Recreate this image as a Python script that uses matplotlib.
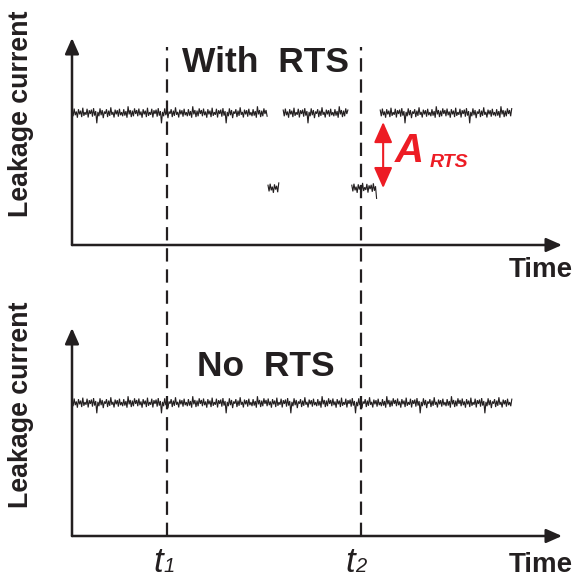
#!/usr/bin/env python3
import matplotlib
matplotlib.use('Agg')
import matplotlib.pyplot as plt
import numpy as np

plt.rcParams['font.family'] = ['Liberation Sans', 'DejaVu Sans']

# time axis: 0..100 (arbitrary units), current axis: 0..100 (arbitrary units)
T1 = 19.4
T2 = 59.0

# with RTS: (start, end, level)
RTS_SEGMENTS = [
    (0.0, 40.0, 63.8),
    (40.0, 42.2, 27.5),
    (43.1, 56.5, 63.8),
    (57.1, 62.2, 27.5),
    (62.9, 89.8, 63.8),
]
# no RTS
FLAT_SEGMENTS = [
    (0.0, 89.8, 64.0),
]
RTS_ARROW_X = 63.5
RTS_HIGH = 59.4
RTS_LOW = 27.5

# hand-drawn noise pattern (current units), repeated along the traces
NOISE = [1.4, -1.6, 2.1, -1.1, 0.7, -2.3, 1.8, -0.7, 1.1, -2.0, 2.5, -1.4,
         0.4, -0.9, 2.0, -2.2, 1.3, -0.5, 1.6, -1.8, 2.3, -1.3, 0.9, -5.0,
         0.5, -1.6, 2.2, -1.1, 1.4, -2.5, 0.7, -0.4, 1.8, -2.0, 1.1, -1.4,
         2.7, -0.9, 0.5, -2.2, 1.6, -0.7, 1.3, -1.8, 2.0, -1.1, 0.4, -1.6,
         1.8, -1.3, 0.9, -2.3, 3.2, -0.7, 1.4, -2.0, 1.1, -1.6, 2.2, -0.5]

W, H = 572, 579
fig = plt.figure(figsize=(W / 100, H / 100), dpi=100)


def box(x0, y_top, x1, y_bot):
    return [x0 / W, 1 - y_bot / H, (x1 - x0) / W, (y_bot - y_top) / H]


def draw_axes(ax):
    ax.set_xlim(0, 100)
    ax.set_ylim(0, 100)
    ax.axis('off')
    style = '-|>,head_length=0.95,head_width=0.42'
    for end in [(1.0, 0.0), (0.0, 1.0)]:
        ax.annotate('', xy=end, xytext=(0, 0), xycoords='axes fraction',
                    arrowprops=dict(arrowstyle=style, mutation_scale=10,
                                    lw=1.8, color='#231f20',
                                    shrinkA=0, shrinkB=0))


def draw_trace(ax, segments):
    for start, end, level in segments:
        x = np.arange(start, end, 0.22)
        y = level + np.resize(NOISE, len(x))
        ax.plot(x, y, color='#231f20', lw=0.8, solid_joinstyle='miter')


ax_top = fig.add_axes(box(72, 38, 562, 245))
draw_axes(ax_top)
draw_trace(ax_top, RTS_SEGMENTS)
ax_top.annotate('', xy=(RTS_ARROW_X, RTS_LOW), xytext=(RTS_ARROW_X, RTS_HIGH),
                arrowprops=dict(arrowstyle='<|-|>,head_length=0.9,head_width=0.4',
                                mutation_scale=14, lw=1.5, color='#ed1c24',
                                shrinkA=0, shrinkB=0))

ax_bot = fig.add_axes(box(72, 328, 562, 536))
draw_axes(ax_bot)
draw_trace(ax_bot, FLAT_SEGMENTS)

# dashed time markers spanning both panels
ax_dash = fig.add_axes(box(72, 47, 562, 536))
ax_dash.set_xlim(0, 100)
ax_dash.set_ylim(0, 1)
ax_dash.axis('off')
for t in (T1, T2):
    ax_dash.axvline(t, color='#231f20', lw=1.6, dashes=(6, 3.5))

# texts
fig.text(266 / W, 1 - 63 / H, 'With  RTS', ha='center', va='center',
         fontsize=25.5, fontweight='bold', color='#231f20')
fig.text(266 / W, 1 - 366 / H, 'No  RTS', ha='center', va='center',
         fontsize=25.5, fontweight='bold', color='#231f20')
for yc in (114, 405):
    fig.text(21 / W, 1 - yc / H, 'Leakage current', rotation=90,
             ha='center', va='center', fontsize=19.3, fontweight='bold',
             color='#231f20')
for yc in (270, 565):
    fig.text(541 / W, 1 - yc / H, 'Time', ha='center', va='center',
             fontsize=20, fontweight='bold', color='#231f20')

for xt, sub in ((153, '1'), (345, '2')):
    fig.text(xt / W, 1 - 572 / H, 't', ha='left', va='baseline',
             fontsize=25, fontstyle='italic', color='#231f20')
    fig.text((xt + 10) / W, 1 - 572 / H, sub, ha='left', va='baseline',
             fontsize=14.5, fontstyle='italic', color='#231f20')

fig.text(395 / W, 1 - 162 / H, 'A', ha='left', va='baseline',
         fontsize=29, fontweight='bold', fontstyle='italic', color='#ed1c24')
fig.text(430 / W, 1 - 167 / H, 'RTS', ha='left', va='baseline',
         fontsize=14, fontweight='bold', fontstyle='italic', color='#ed1c24')

fig.savefig('out.png', dpi=100)
